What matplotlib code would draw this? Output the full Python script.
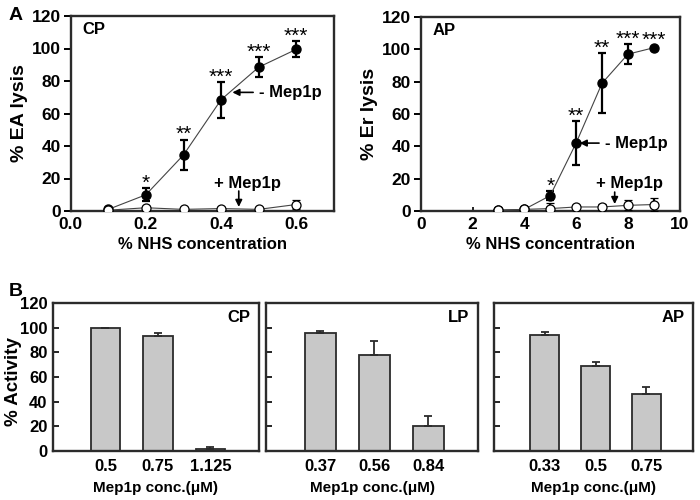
"""Panel A: lysis curves with/without Mep1p; panel B: % activity bars."""

import matplotlib
matplotlib.use("Agg")
import matplotlib.pyplot as plt
import numpy as np

plt.rcParams["font.family"] = ["Liberation Sans", "DejaVu Sans"]
plt.rcParams["font.weight"] = "bold"

# ---- panel A, CP ----
cp_nhs = [0.1, 0.2, 0.3, 0.4, 0.5, 0.6]
cp_minus = [1, 10, 34.5, 68.5, 88.5, 99.5]
cp_minus_err = [0.5, 4, 9.5, 11, 6, 5]
cp_plus = [0.5, 2, 1, 1.5, 1, 4]
cp_plus_err = [0.3, 0.8, 0.5, 0.8, 0.5, 3]
cp_stars = ["", "*", "**", "***", "***", "***"]

# ---- panel A, AP ----
ap_nhs = [3, 4, 5, 6, 7, 8, 9]
ap_minus = [0.5, 1, 9.5, 42, 79, 97, 101]
ap_minus_err = [0.3, 0.5, 3, 13.5, 18.5, 6, 0]
ap_plus = [0.5, 1, 1.5, 2.5, 2.5, 3.5, 4]
ap_plus_err = [0.3, 0.5, 3.5, 1.5, 2, 3, 4]
ap_stars = ["", "", "*", "**", "**", "***", "***"]

# ---- panel B ----
bar_panels = ["CP", "LP", "AP"]
bar_conc = [["0.5", "0.75", "1.125"], ["0.37", "0.56", "0.84"], ["0.33", "0.5", "0.75"]]
bar_vals = [[100, 93.5, 1.5], [95.5, 78, 20], [94, 69, 46]]
bar_errs = [[0, 2.5, 1.5], [1.5, 11, 8.5], [2.5, 3, 6]]

EDGE = "#2b2b2b"


def style_axes(ax):
    for sp in ax.spines.values():
        sp.set_linewidth(1.7)
        sp.set_color(EDGE)


def curve_panel(ax, x, ym, em, yp, ep, stars, tag, ylabel, xlim, xticks, xfmt,
                minus_xy, minus_txt, plus_xy, plus_tail, plus_txt):
    ax.errorbar(x, ym, yerr=em, fmt="-o", color="#444444", lw=0.8, ms=6.5,
                mfc="black", mec="black", ecolor="black", elinewidth=1.6,
                capsize=3, capthick=1.6, zorder=3)
    ax.errorbar(x, yp, yerr=ep, fmt="-o", color="#444444", lw=0.8, ms=6.5,
                mfc="white", mec="black", mew=0.9, ecolor="black", elinewidth=1.6,
                capsize=3, capthick=1.6, zorder=4)
    for xi, yi, ei, s in zip(x, ym, em, stars):
        if s:
            ax.annotate(s, (xi, max(yi + ei, yi + 1.5)), xytext=(0, -0.5),
                        textcoords="offset points", ha="center", va="baseline",
                        fontsize=15, fontweight="normal")
    ax.annotate("- Mep1p", xy=minus_xy, xytext=minus_txt, ha="left", va="center",
                fontsize=12, fontweight="bold",
                arrowprops=dict(arrowstyle="-|>", color="black", lw=1.2,
                                mutation_scale=10, shrinkA=2, shrinkB=0))
    ax.annotate("", xy=plus_xy, xytext=plus_tail,
                arrowprops=dict(arrowstyle="-|>", color="black", lw=1.2,
                                mutation_scale=10, shrinkA=0, shrinkB=0))
    ax.text(plus_txt[0], plus_txt[1], "+ Mep1p", ha="center", va="center",
            fontsize=12, fontweight="bold")
    ax.text(0.045, 0.97, tag, transform=ax.transAxes, ha="left", va="top",
            fontsize=12, fontweight="bold")
    ax.set_xlim(*xlim)
    ax.set_ylim(0, 120)
    ax.set_xticks(xticks)
    ax.set_xticklabels([xfmt.format(t) for t in xticks])
    ax.set_yticks(np.arange(0, 121, 20))
    ax.tick_params(axis="y", direction="out", length=5, width=1.4, labelsize=12.5, pad=2)
    ax.tick_params(axis="x", direction="in", length=3, width=1.2, labelsize=12.5, pad=4)
    ax.set_xlabel("% NHS concentration", fontsize=12, fontweight="bold", labelpad=4)
    ax.set_ylabel(ylabel, fontsize=14, fontweight="bold", labelpad=3)
    style_axes(ax)


fig = plt.figure(figsize=(7, 5), dpi=100)

ax1 = fig.add_axes([0.101, 0.578, 0.376, 0.39])
curve_panel(ax1, cp_nhs, cp_minus, cp_minus_err, cp_plus, cp_plus_err, cp_stars,
            "CP", "% EA lysis", (0, 0.7), [0.0, 0.2, 0.4, 0.6], "{:.1f}",
            (0.43, 73), (0.50, 73), (0.447, 2.5), (0.447, 12.3), (0.47, 17))

ax2 = fig.add_axes([0.601, 0.578, 0.37, 0.388])
curve_panel(ax2, ap_nhs, ap_minus, ap_minus_err, ap_plus, ap_plus_err, ap_stars,
            "AP", "% Er lysis", (0, 10), [0, 2, 4, 6, 8, 10], "{:d}",
            (6.14, 42), (7.1, 42), (7.49, 4.3), (7.49, 11.7), (8.07, 17.3))

rects = [[0.0757, 0.098, 0.294, 0.296],
         [0.38, 0.098, 0.303, 0.296],
         [0.706, 0.098, 0.284, 0.296]]
for i, (tag, labels, vals, errs) in enumerate(zip(bar_panels, bar_conc, bar_vals, bar_errs)):
    ax = fig.add_axes(rects[i])
    pos = np.arange(len(vals))
    ax.bar(pos, vals, width=0.57, color="#c8c8c8", edgecolor=EDGE, linewidth=1.3,
           zorder=2)
    ax.errorbar(pos, vals, yerr=[np.zeros(len(errs)), errs], fmt="none",
                ecolor=EDGE, elinewidth=1.3, capsize=3, capthick=1.3, zorder=3)
    ax.set_xlim(-1.0, 2.92)
    ax.set_ylim(0, 120)
    ax.set_xticks(pos)
    ax.set_xticklabels(labels)
    ax.set_yticks(np.arange(0, 121, 20))
    ax.tick_params(axis="x", length=0, labelsize=12, pad=6)
    ax.tick_params(axis="y", direction="in", length=4, width=1.2, labelsize=12, pad=4)
    if i > 0:
        ax.set_yticklabels([])
    else:
        ax.set_ylabel("% Activity", fontsize=13.5, fontweight="bold")
        ax.yaxis.set_label_coords(-0.15, 0.47)
    ax.set_xlabel("Mep1p conc.(\u03bcM)", fontsize=11, fontweight="bold", labelpad=5)
    ax.text(0.96, 0.95, tag, transform=ax.transAxes, ha="right", va="top",
            fontsize=12, fontweight="bold")
    style_axes(ax)

fig.text(0.012, 0.986, "A", fontsize=14, fontweight="bold", va="top")
fig.text(0.012, 0.434, "B", fontsize=14, fontweight="bold", va="top")

fig.savefig("out.png", dpi=100)
